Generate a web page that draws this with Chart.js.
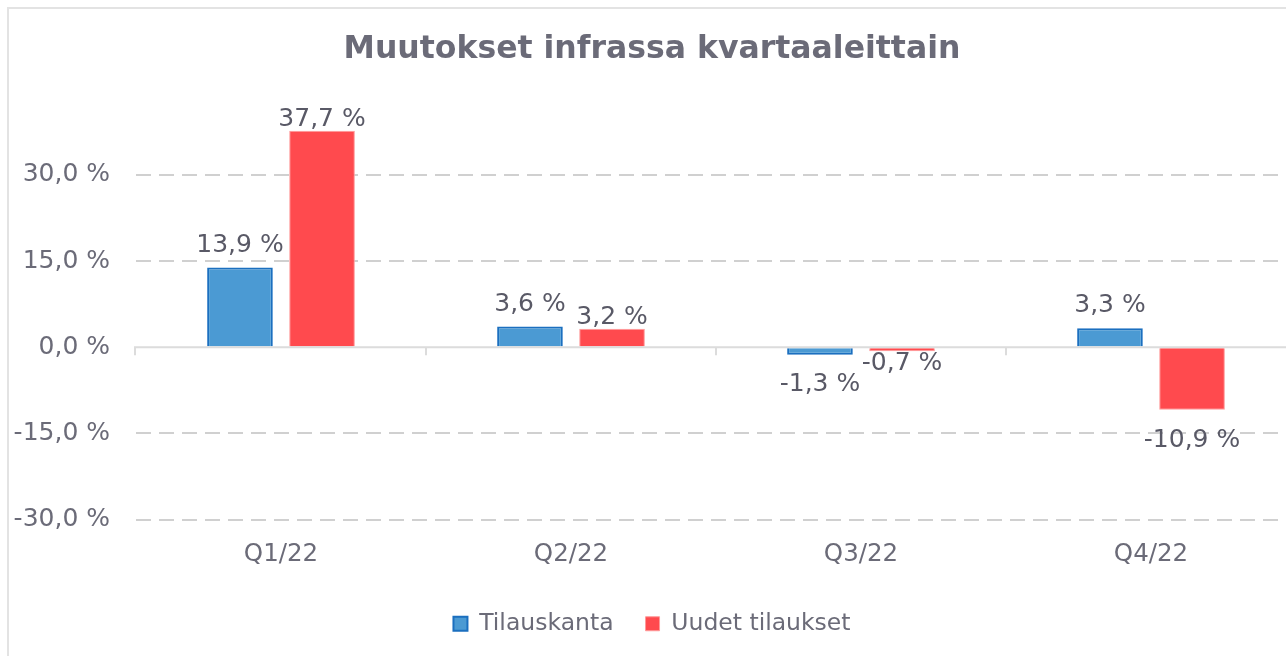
<!DOCTYPE html>
<html>
<head>
<meta charset="utf-8">
<script src="https://cdn.jsdelivr.net/npm/chart.js@4/dist/chart.umd.min.js"></script>
<style>
  html, body { margin: 0; padding: 0; background: #fff; overflow: hidden; }
  #frame { position: absolute; left: 7px; top: 7px; width: 1400px; height: 800px; border: 2px solid #e3e3e3; }
  #wrap { position: absolute; left: 8px; top: 8px; width: 1290px; height: 672px; }
</style>
</head>
<body>
<div id="frame"></div>
<div id="wrap"><canvas id="infraChart" width="1290" height="672"></canvas></div>
<script>
// Data
const categories = ['Q1/22', 'Q2/22', 'Q3/22', 'Q4/22'];
const tilauskanta = [13.9, 3.6, -1.3, 3.3];
const uudetTilaukset = [37.7, 3.2, -0.7, -10.9];
const yTickValues = [-30, -15, 0, 15, 30];

const fmt = v => v.toFixed(1).replace('.', ',') + ' %';

// value labels outside bar ends
const barLabels = {
    id: 'barLabels',
    afterDatasetsDraw(chart) {
        const ctx = chart.ctx;
        ctx.save();
        ctx.font = '25px "DejaVu Sans"';
        ctx.fillStyle = '#595966';
        ctx.textAlign = 'center';
        chart.data.datasets.forEach((ds, i) => {
            const meta = chart.getDatasetMeta(i);
            meta.data.forEach((bar, j) => {
                const v = ds.data[j];
                const off = ds.labelOffset[j];
                if (v >= 0) {
                    ctx.textBaseline = 'bottom';
                    ctx.fillText(fmt(v), bar.x, bar.y - off + 4);
                } else {
                    ctx.textBaseline = 'top';
                    ctx.fillText(fmt(v), bar.x, bar.y + off);
                }
            });
        });
        ctx.restore();
    }
};

// solid zero line with small category dividers
const zeroAxis = {
    id: 'zeroAxis',
    beforeDatasetsDraw(chart) {
        const ctx = chart.ctx;
        const y = chart.scales.y.getPixelForValue(0);
        const x = chart.scales.x;
        const area = chart.chartArea;
        ctx.save();
        ctx.strokeStyle = '#dcdcdc';
        ctx.lineWidth = 2;
        ctx.beginPath();
        ctx.moveTo(area.left - 2, y);
        ctx.lineTo(area.right, y);
        for (let i = 0; i < categories.length; i++) {
            const bx = i === 0 ? area.left - 1 : (x.getPixelForValue(i - 1) + x.getPixelForValue(i)) / 2;
            ctx.moveTo(bx, y);
            ctx.lineTo(bx, y + 8);
        }
        ctx.stroke();
        ctx.restore();
    }
};

const ctxInfra = document.getElementById('infraChart').getContext('2d');
const infraChart = new Chart(ctxInfra, {
    type: 'bar',
    data: {
        labels: categories,
        datasets: [{
            label: 'Tilauskanta',
            data: tilauskanta,
            backgroundColor: '#4b9ad3',
            borderColor: '#1b6fbf',
            borderWidth: 2,
            labelOffset: [13, 14, 17, 14]
        }, {
            label: 'Uudet tilaukset',
            data: uudetTilaukset,
            backgroundColor: '#ff4a4e',
            borderColor: '#ff9a9a',
            borderWidth: 1,
            labelOffset: [3, 3, 0, 18]
        }]
    },
    options: {
        responsive: false,
        animation: false,
        categoryPercentage: 0.566,
        barPercentage: 0.8,
        layout: { padding: { top: 0, right: 2, bottom: 34.5, left: 0 } },
        plugins: {
            title: {
                display: true,
                text: 'Muutokset infrassa kvartaaleittain',
                color: '#6b6b78',
                font: { family: 'DejaVu Sans', size: 31.5, weight: 'bold' },
                padding: { top: 23, bottom: 20 }
            },
            legend: {
                position: 'bottom',
                labels: {
                    color: '#6b6b78',
                    font: { family: 'DejaVu Sans', size: 23.5 },
                    boxWidth: 14,
                    boxHeight: 14,
                    padding: 32
                }
            },
            tooltip: { enabled: false }
        },
        scales: {
            x: {
                grid: { display: false, drawTicks: false },
                border: { display: false },
                ticks: {
                    color: '#6b6b78',
                    font: { family: 'DejaVu Sans', size: 24.5 },
                    padding: 20
                },
                afterFit(scale) { scale.height = 60.5; }
            },
            y: {
                min: -30,
                max: 45,
                border: { display: false, dash: [15, 8] },
                grid: {
                    drawTicks: false,
                    lineWidth: 2,
                    color: c => (c.tick.value === 0 || c.tick.value === 45) ? 'transparent' : '#d0d0d0'
                },
                ticks: {
                    stepSize: 15,
                    color: '#6b6b78',
                    font: { family: 'DejaVu Sans', size: 25 },
                    padding: 26,
                    callback: v => yTickValues.includes(v) ? fmt(v) : ''
                },
                afterFit(scale) { scale.width = 128; }
            }
        }
    },
    plugins: [zeroAxis, barLabels]
});
</script>
</body>
</html>
